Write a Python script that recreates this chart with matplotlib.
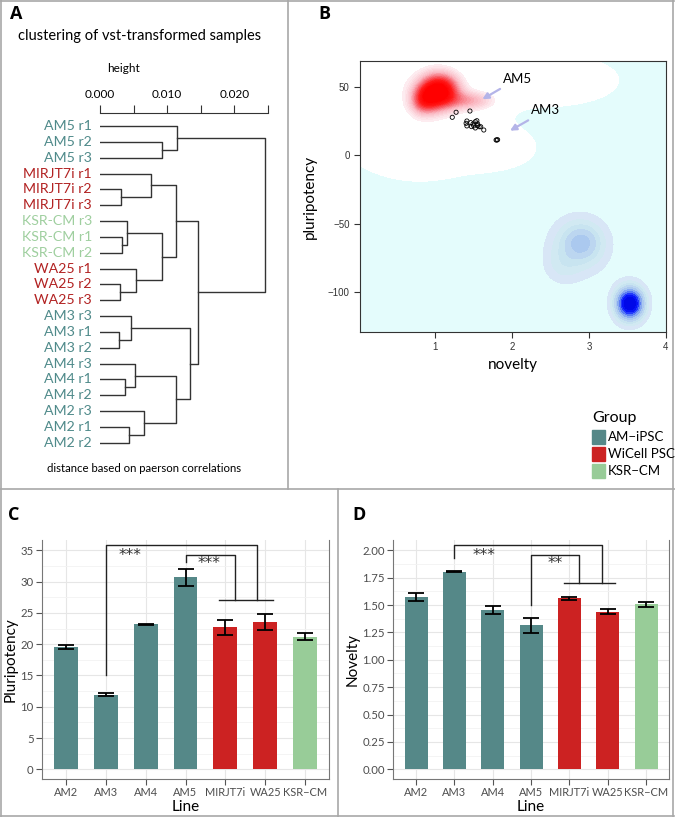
import matplotlib
matplotlib.use("Agg")
import matplotlib.pyplot as plt
from matplotlib.colors import LinearSegmentedColormap
from matplotlib.lines import Line2D
from matplotlib.patches import Rectangle
import numpy as np

plt.rcParams['font.family'] = ['Lato', 'DejaVu Sans']

W, H = 675, 817

# ---- panel A: hierarchical clustering ----
leaf_labels = ['AM5 r1', 'AM5 r2', 'AM5 r3', 'MIRJT7i r1', 'MIRJT7i r2', 'MIRJT7i r3',
               'KSR-CM r3', 'KSR-CM r1', 'KSR-CM r2', 'WA25 r1', 'WA25 r2', 'WA25 r3',
               'AM3 r3', 'AM3 r1', 'AM3 r2', 'AM4 r3', 'AM4 r1', 'AM4 r2',
               'AM2 r3', 'AM2 r1', 'AM2 r2']
leaf_group = [0, 0, 0, 1, 1, 1, 2, 2, 2, 1, 1, 1, 0, 0, 0, 0, 0, 0, 0, 0, 0]
# merges: (child a, child b, height); new node ids start at len(leaf_labels)
merge_a = [1, 0, 4, 3, 7, 6, 10, 9, 26, 24, 13, 12, 16, 15, 19, 18, 34, 32, 30, 22]
merge_b = [2, 21, 5, 23, 8, 25, 11, 27, 28, 29, 14, 31, 17, 33, 20, 35, 36, 37, 38, 39]
merge_h = [0.00927, 0.0114, 0.00308, 0.00759, 0.00323, 0.00402, 0.00298, 0.00531,
           0.00927, 0.01126, 0.00288, 0.00461, 0.00377, 0.00521, 0.00437, 0.00660,
           0.01131, 0.01339, 0.01463, 0.02455]
label_colors = ['#4f8a8a', '#b22222', '#9fcf9f']

# ---- panel B: density map ----
sample_novelty = [1.22, 1.27, 1.45, 1.40, 1.41, 1.41, 1.46, 1.49, 1.52, 1.54, 1.55, 1.52,
                  1.57, 1.63, 1.59, 1.50, 1.55, 1.47, 1.79, 1.81, 1.80]
sample_pluri = [27.8, 31.5, 32.4, 23.4, 25.1, 21.5, 23.9, 22.9, 24.6, 25.3, 21.7, 20.0,
                20.9, 18.5, 20.9, 21.5, 23.0, 21.0, 11.2, 11.4, 11.2]
# reference densities as gaussian components: x, y, sd x, sd y, weight
pluri_mx = [1.05, 0.85, 1.45, 0.80, 1.75, 2.55, 0.25]
pluri_my = [47, 40, 40, 26, 5, 55, 58]
pluri_sx = [0.17, 0.12, 0.20, 0.70, 0.30, 0.50, 0.45]
pluri_sy = [8.5, 7, 4.5, 27, 8, 11, 14]
pluri_w = [1.0, 0.45, 0.3, 0.04, 0.04, 0.04, 0.05]
diff_mx = [2.90, 2.87, 2.65, 3.53, 3.52]
diff_my = [-64, -66, -80, -108.5, -108]
diff_sx = [0.15, 0.25, 0.15, 0.10, 0.15]
diff_sy = [8, 14, 9, 6.5, 10.5]
diff_w = [0.2, 0.12, 0.06, 1.0, 0.1]

groups = ['AM\u2212iPSC', 'WiCell PSC', 'KSR\u2212CM']
group_colors = ['#558888', '#cc2222', '#98cc98']

# ---- panels C, D: bar charts ----
lines = ['AM2', 'AM3', 'AM4', 'AM5', 'MIRJT7i', 'WA25', 'KSR\u2212CM']
line_group = [0, 0, 0, 0, 1, 1, 2]
pluripotency = [19.5, 11.9, 23.15, 30.7, 22.7, 23.5, 21.2]
pluripotency_err = [0.3, 0.25, 0.1, 1.35, 1.2, 1.3, 0.6]
novelty = [1.575, 1.805, 1.455, 1.315, 1.56, 1.44, 1.505]
novelty_err = [0.035, 0.005, 0.035, 0.07, 0.01, 0.02, 0.02]


def fig_rect(left, top, right, bottom):
    return [left / W, 1 - bottom / H, (right - left) / W, (bottom - top) / H]


fig = plt.figure(figsize=(6.75, 8.17), dpi=100)

# panel frame lines
frame = '#a8a8a8'
for xs, ys in [([1, 674], [816, 816]), ([1, 674], [1, 1]), ([1, 1], [0, 817]),
               ([673, 673], [0, 817]), ([0, 675], [489, 489]),
               ([288, 288], [0, 489]), ([337.5, 337.5], [489, 817])]:
    fig.add_artist(Line2D([x / W for x in xs], [1 - y / H for y in ys],
                          color=frame, lw=1.2))

for lab, x, y in [('A', 10, 14), ('B', 318, 14), ('C', 8, 515), ('D', 352, 515)]:
    fig.text(x / W, 1 - y / H, lab, fontsize=13, fontweight='bold', va='center',
             family=['Open Sans', 'DejaVu Sans'])

# ===== A =====
axA = fig.add_axes(fig_rect(100, 113, 268, 450))
n = len(leaf_labels)
node_y = {i: float(i) for i in range(n)}
node_x = {i: 0.0 for i in range(n)}
for k, (a, b, h) in enumerate(zip(merge_a, merge_b, merge_h)):
    ya, yb = node_y[a], node_y[b]
    axA.plot([node_x[a], h, h, node_x[b]], [ya, ya, yb, yb], color='#333333', lw=1.0)
    node_y[n + k] = (ya + yb) / 2
    node_x[n + k] = h
for i, lab in enumerate(leaf_labels):
    axA.text(-0.0012, i, lab, ha='right', va='center', fontsize=10.2,
             color=label_colors[leaf_group[i]])
axA.set_xlim(0, 0.025)
axA.set_ylim(20.45, -0.82)
for s in ['bottom', 'left', 'right']:
    axA.spines[s].set_visible(False)
axA.spines['top'].set_color('#333333')
axA.xaxis.tick_top()
axA.set_xticks(np.arange(0, 0.0251, 0.005))
axA.set_xticklabels(['0.000', '', '0.010', '', '0.020', ''])
axA.tick_params(axis='x', direction='out', length=6, color='#333333', labelsize=8.5,
                pad=3)
axA.set_yticks([])
fig.text(18 / W, 1 - 36 / H, 'clustering of vst-transformed samples', fontsize=10.5,
         va='center')
fig.text(124 / W, 1 - 69 / H, 'height', fontsize=8.5, ha='center', va='center')
fig.text(47 / W, 1 - 469 / H, 'distance based on paerson correlations', fontsize=8.2,
         va='center')

# ===== B =====
axB = fig.add_axes(fig_rect(360, 61, 666, 332))
gx, gy = np.meshgrid(np.linspace(0, 4.1, 400), np.linspace(-135, 75, 400))


def mixture(mx, my, sx, sy, w):
    z = np.zeros_like(gx)
    for a, b, c, d, e in zip(mx, my, sx, sy, w):
        z += e * np.exp(-0.5 * (((gx - a) / c) ** 2 + ((gy - b) / d) ** 2))
    return z


zd = mixture(diff_mx, diff_my, diff_sx, diff_sy, diff_w)
blue = LinearSegmentedColormap.from_list(
    'b', ['#d8e6f6', '#cdebf0', '#bcd6f0', '#a2c2ee', '#5a7cf4', '#0a1aff', '#0008e8'])
lev_d = [-1, 0.03, 0.07, 0.12, 0.18, 0.26, 0.36, 0.48, 0.6, 0.72, 0.86, 1.5]
col_d = ['#e4fcfc'] + [blue(v) for v in np.linspace(0, 1, len(lev_d) - 2)]
axB.contourf(gx, gy, zd, levels=lev_d, colors=col_d)

zp = mixture(pluri_mx, pluri_my, pluri_sx, pluri_sy, pluri_w)
red = LinearSegmentedColormap.from_list('r', ['#fdecf0', '#fab8c2', '#f7636d', '#ff1a1a',
                                              '#ff0000'])
lev_p = [0.01] + list(np.linspace(0.1, 0.9, 25)) + [2.0]
col_p = ['#ffffff'] + [red(v) for v in np.linspace(0, 1, len(lev_p) - 2)]
axB.contourf(gx, gy, zp, levels=lev_p, colors=col_p)

axB.scatter(sample_novelty, sample_pluri, s=9, facecolors='none', edgecolors='black',
            linewidths=0.6, zorder=3)
arrow = dict(arrowstyle='-|>', color='#b4b4e8', lw=1.6, mutation_scale=9)
axB.annotate('AM5', xy=(1.58, 40), xytext=(1.88, 56), fontsize=9.5, arrowprops=arrow,
             va='center')
axB.annotate('AM3', xy=(1.94, 17), xytext=(2.25, 33), fontsize=9.5, arrowprops=arrow,
             va='center')
axB.set_xlim(0.02, 4.0)
axB.set_ylim(-129.3, 69)
axB.set_xticks([1, 2, 3, 4])
axB.set_yticks([-100, -50, 0, 50])
axB.tick_params(labelsize=7, length=4, color='#333333', labelcolor='#333333')
for t in axB.get_xticklabels() + axB.get_yticklabels():
    t.set_family(['Liberation Sans', 'DejaVu Sans'])
for s in axB.spines.values():
    s.set_color('#333333')
axB.set_xlabel('novelty', fontsize=11)
axB.set_ylabel('pluripotency', fontsize=11, labelpad=8)

# legend
fig.text(592 / W, 1 - 418 / H, 'Group', fontsize=11.5, va='center')
for i, (g, c) in enumerate(zip(groups, group_colors)):
    yc = 437 + 17 * i
    fig.add_artist(Rectangle((592 / W, 1 - (yc + 7) / H), 13 / W, 14 / H, color=c))
    fig.text(608 / W, 1 - yc / H, g, fontsize=9.5, va='center')

# ===== C, D =====
bar_panels = [
    dict(rect=fig_rect(42, 540, 329, 779), vals=pluripotency, err=pluripotency_err,
         ylim=(-1.55, 36.65), yticks=np.arange(0, 36, 5), minor=np.arange(2.5, 36, 5),
         fmt='{:.0f}', ylabel='Pluripotency',
         brackets=[(1, 15.1, 35.8, 4.8), (3, 33.2, 34.3, 4.25)], join=27.1,
         stars=[(1.6, 34.2, '***'), (3.6, 32.9, '***')]),
    dict(rect=fig_rect(393, 540, 669, 779), vals=novelty, err=novelty_err,
         ylim=(-0.0885, 2.094), yticks=np.arange(0, 2.01, 0.25),
         minor=np.arange(0.125, 2.1, 0.25), fmt='{:.2f}', ylabel='Novelty',
         brackets=[(1, 1.93, 2.05, 4.86), (3, 1.50, 1.96, 4.25)], join=1.70,
         stars=[(1.78, 1.955, '***'), (3.62, 1.875, '**')]),
]
xpos = np.arange(len(lines))
for p in bar_panels:
    ax = fig.add_axes(p['rect'])
    ax.set_axisbelow(True)
    ax.bar(xpos, p['vals'], width=0.6, color=[group_colors[g] for g in line_group])
    ax.errorbar(xpos, p['vals'], yerr=p['err'], fmt='none', ecolor='black', elinewidth=1.3,
                capsize=5.5, capthick=1.3)
    for x0, y0, ytop, x1 in p['brackets']:
        ax.plot([x0, x0, x1, x1], [y0, ytop, ytop, p['join']], color='#222222', lw=1.0)
    ax.plot([3.85, 5.2], [p['join'], p['join']], color='#222222', lw=1.0)
    for x, y, s in p['stars']:
        ax.text(x, y, s, ha='center', va='center', fontsize=11, color='#333333',
                family=['DejaVu Sans'])
    ax.set_xlim(-0.6, 6.6)
    ax.set_ylim(*p['ylim'])
    ax.set_xticks(xpos)
    ax.set_xticklabels(lines)
    ax.set_yticks(p['yticks'])
    ax.set_yticklabels([p['fmt'].format(v) for v in p['yticks']])
    ax.set_yticks(p['minor'], minor=True)
    ax.grid(True, which='major', color='#e6e6e6', lw=0.8)
    ax.grid(True, which='minor', axis='y', color='#f2f2f2', lw=0.6)
    ax.tick_params(which='major', labelsize=8.2, length=4, color='#555555',
                   labelcolor='#4d4d4d', pad=2)
    ax.tick_params(axis='x', which='major', labelsize=7.9)
    ax.tick_params(which='minor', length=0)
    ax.spines['top'].set_visible(False)
    for s in ['left', 'bottom', 'right']:
        ax.spines[s].set_color('#777777')
    ax.set_xlabel('Line', fontsize=11, labelpad=1)
    ax.set_ylabel(p['ylabel'], fontsize=11, labelpad=2)

fig.savefig('out.png', dpi=100)
